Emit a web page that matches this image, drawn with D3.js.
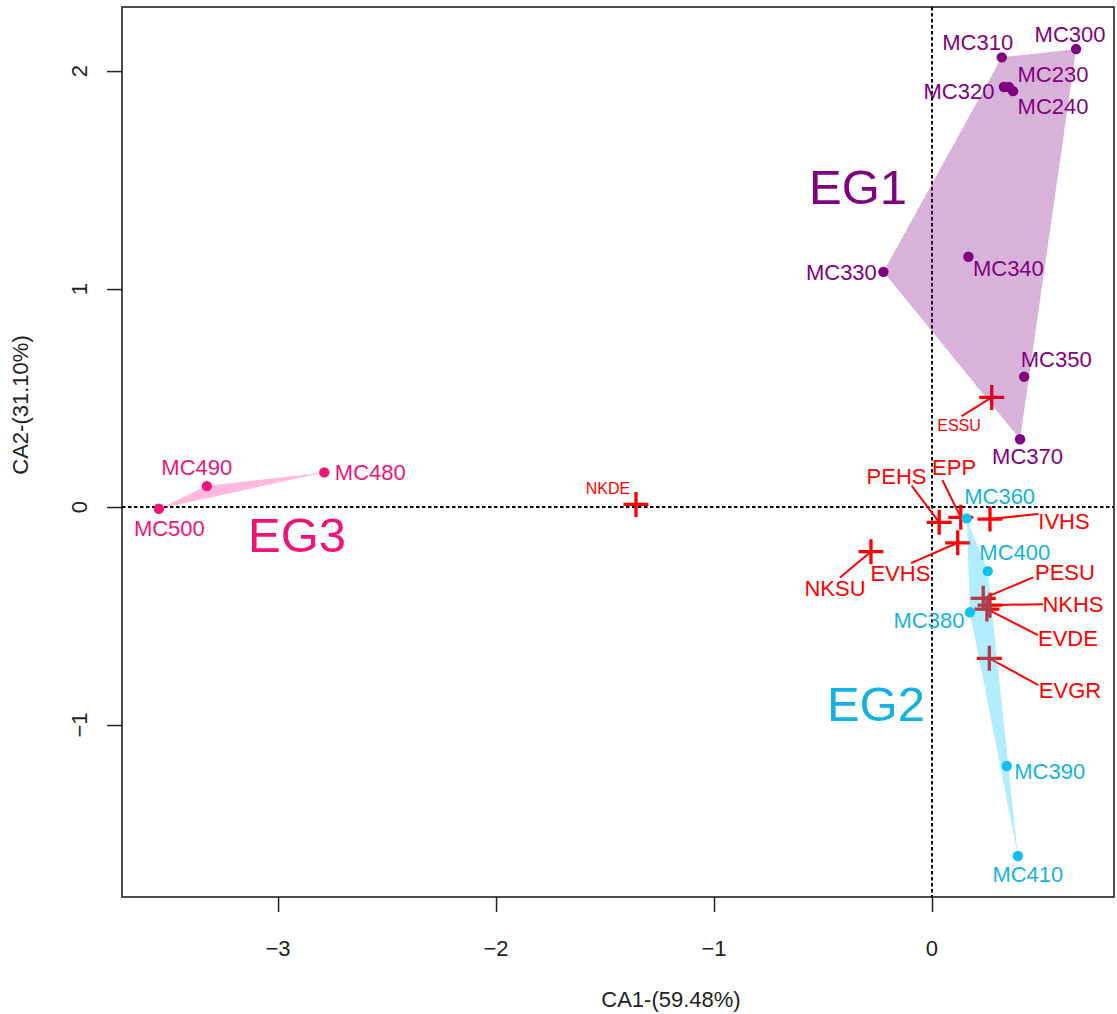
<!DOCTYPE html>
<html><head><meta charset="utf-8">
<script src="https://cdn.jsdelivr.net/npm/d3@7"></script>
<style>
body{margin:0;background:#fff}
svg{display:block}
text{font-family:"Liberation Sans",Arial,Helvetica,sans-serif}
</style>
</head><body>
<svg id="chart" width="1117" height="1014"></svg>
<script>
// ---------------- data ----------------
const xTickValues = [-3, -2, -1, 0];
const yTickValues = [-1, 0, 1, 2];
const xTitle = "CA1-(59.48%)";
const yTitle = "CA2-(31.10%)";

const groupNames = ["EG1", "EG2", "EG3"];

const eg1Sites = ["MC300","MC310","MC230","MC240","MC320","MC330","MC340","MC350","MC370"];
const eg1CA1   = [0.661, 0.320, 0.353, 0.372, 0.330, -0.223, 0.167, 0.423, 0.404];
const eg1CA2   = [2.101, 2.063, 1.927, 1.908, 1.927, 1.079, 1.148, 0.598, 0.311];

const eg2Sites = ["MC360","MC400","MC380","MC390","MC410"];
const eg2CA1   = [0.159, 0.256, 0.174, 0.343, 0.394];
const eg2CA2   = [-0.052, -0.294, -0.483, -1.188, -1.601];

const eg3Sites = ["MC500","MC490","MC480"];
const eg3CA1   = [-3.547, -3.327, -2.788];
const eg3CA2   = [-0.008, 0.096, 0.159];

const suppNames = ["ESSU","NKDE","PEHS","EPP","IVHS","EVHS","NKSU","PESU","NKHS","EVDE","EVGR"];
const suppCA1   = [0.274, -1.358, 0.033, 0.132, 0.266, 0.118, -0.280, 0.235, 0.266, 0.252, 0.263];
const suppCA2   = [0.503, 0.012, -0.070, -0.047, -0.055, -0.164, -0.205, -0.419, -0.450, -0.468, -0.694];

// ---------------- layout / style ----------------
const W = 1117, H = 1014;
const plot = {left: 122, right: 1114, top: 7, bottom: 897};
const colors = {
  EG1: {dot: "#800080", text: "#800080", fill: "#800080"},
  EG2: {dot: "#12C0EE", text: "#14B2E0", fill: "#00BFFF"},
  EG3: {dot: "#F0147A", text: "#F0147A", fill: "#FF1493"}
};
const suppColor = "#FF0000";
const groupLabelPos = {EG1: [-0.339, 1.472], EG2: [-0.257, -0.899], EG3: [-2.913, -0.124]};
// label centre offsets (px) relative to point
const pointLabelOffset = {
  MC300:[-6,-15], MC310:[-24,-15], MC230:[44,-13], MC240:[40,15], MC320:[-45,4],
  MC330:[-42,0], MC340:[40,11.5], MC350:[32,-18], MC370:[7.5,17],
  MC360:[33,-22], MC400:[27,-19], MC380:[-41,8], MC390:[43,5.5], MC410:[10,18],
  MC500:[10.5,19], MC490:[-10,-19], MC480:[46,0]
};
// supplementary labels: label centre offset, leader end offset, small font
const suppLabelLayout = {
  ESSU: {lab:[-32.7,27.7], end:[-30,18.7], small:true},
  NKDE: {lab:[-28,-16.3], end:null, small:true},
  PEHS: {lab:[-42.6,-46.5], end:[-27.6,-36.6]},
  EPP:  {lab:[-6.7,-49.8], end:[-18.4,-37.3]},
  IVHS: {lab:[74,1.8], end:[48.3,-5]},
  EVHS: {lab:[-57.3,30.7], end:[-46.6,20.4]},
  NKSU: {lab:[-36,36], end:[-31,25.7]},
  PESU: {lab:[81.7,-26.6], end:[50,-21]},
  NKHS: {lab:[83,-1], end:[53,-1]},
  EVDE: {lab:[81,29], end:[51,26]},
  EVGR: {lab:[80.7,31.7], end:[49,26.7]}
};

// ---------------- build ----------------
const svg = d3.select("#chart");
svg.append("rect").attr("width", W).attr("height", H).attr("fill", "#fff");

const x = d3.scaleLinear().domain([-3.716, 0.835]).range([plot.left, plot.right]);
const y = d3.scaleLinear().domain([-1.789, 2.294]).range([plot.bottom, plot.top]);

const groups = [
  {name: "EG1", sites: eg1Sites, a: eg1CA1, b: eg1CA2},
  {name: "EG2", sites: eg2Sites, a: eg2CA1, b: eg2CA2},
  {name: "EG3", sites: eg3Sites, a: eg3CA1, b: eg3CA2}
].map(g => ({name: g.name, pts: g.sites.map((s, i) => ({site: s, ca1: g.a[i], ca2: g.b[i]}))}));
const supp = suppNames.map((n, i) => ({name: n, ca1: suppCA1[i], ca2: suppCA2[i]}));

// axes
const fmt = d => d < 0 ? "\u2212" + Math.abs(d) : String(d);
const xAxis = svg.append("g").attr("transform", `translate(0,${plot.bottom})`)
  .call(d3.axisBottom(x).tickValues(xTickValues).tickSize(15).tickFormat(""));
const yAxis = svg.append("g").attr("transform", `translate(${plot.left},0)`)
  .call(d3.axisLeft(y).tickValues(yTickValues).tickSize(15).tickFormat(""));
[xAxis, yAxis].forEach(a => {
  a.select(".domain").remove();
  a.selectAll(".tick line").attr("stroke", "#222").attr("stroke-width", 1.5);
});
svg.append("g").selectAll("text").data(xTickValues).join("text")
  .attr("x", d => x(d)).attr("y", 956).attr("text-anchor", "middle")
  .attr("font-size", 22).attr("fill", "#222").text(fmt);
svg.append("g").selectAll("text").data(yTickValues).join("text")
  .attr("transform", d => `translate(79,${y(d)}) rotate(-90)`)
  .attr("dy", "0.36em").attr("text-anchor", "middle")
  .attr("font-size", 22).attr("fill", "#222").text(fmt);

svg.append("text").attr("x", 671).attr("y", 1007).attr("text-anchor", "middle")
  .attr("font-size", 22).attr("fill", "#222").text(xTitle);
svg.append("text").attr("transform", "translate(20,405) rotate(-90)")
  .attr("dy", "0.36em").attr("text-anchor", "middle")
  .attr("font-size", 22).attr("fill", "#222").text(yTitle);

// reference lines
const ref = svg.append("g").attr("stroke", "#000").attr("stroke-width", 2).attr("stroke-dasharray", "3.5,2.5");
ref.append("line").attr("x1", x(0)).attr("x2", x(0)).attr("y1", plot.top).attr("y2", plot.bottom);
ref.append("line").attr("x1", plot.left).attr("x2", plot.right).attr("y1", y(0)).attr("y2", y(0));

// supplementary: leader lines, crosses, labels
const sg = svg.append("g");
sg.selectAll("line.lead").data(supp.filter(d => suppLabelLayout[d.name].end)).join("line")
  .attr("x1", d => x(d.ca1)).attr("y1", d => y(d.ca2))
  .attr("x2", d => x(d.ca1) + suppLabelLayout[d.name].end[0])
  .attr("y2", d => y(d.ca2) + suppLabelLayout[d.name].end[1])
  .attr("stroke", suppColor).attr("stroke-width", 2);
const arm = 12.5;
sg.selectAll("path.cross").data(supp).join("path")
  .attr("d", d => {
    const cx = x(d.ca1), cy = y(d.ca2);
    return `M${cx-arm},${cy}H${cx+arm}M${cx},${cy-arm}V${cy+arm}`;
  })
  .attr("stroke", suppColor).attr("stroke-width", 3.3).attr("fill", "none");
sg.selectAll("text").data(supp).join("text")
  .attr("x", d => x(d.ca1) + suppLabelLayout[d.name].lab[0])
  .attr("y", d => y(d.ca2) + suppLabelLayout[d.name].lab[1])
  .attr("dy", "0.36em").attr("text-anchor", "middle")
  .attr("font-size", d => suppLabelLayout[d.name].small ? 16 : 22)
  .attr("fill", suppColor).text(d => d.name);

// hulls
svg.append("g").selectAll("path").data(groups).join("path")
  .attr("d", g => {
    const h = d3.polygonHull(g.pts.map(p => [x(p.ca1), y(p.ca2)]));
    return "M" + h.join("L") + "Z";
  })
  .attr("fill", g => colors[g.name].fill).attr("fill-opacity", 0.3).attr("stroke", "none");

// points and labels
groups.forEach(g => {
  const gg = svg.append("g");
  gg.selectAll("circle").data(g.pts).join("circle")
    .attr("cx", p => x(p.ca1)).attr("cy", p => y(p.ca2)).attr("r", 5.2)
    .attr("fill", colors[g.name].dot);
  gg.selectAll("text").data(g.pts).join("text")
    .attr("x", p => x(p.ca1) + pointLabelOffset[p.site][0])
    .attr("y", p => y(p.ca2) + pointLabelOffset[p.site][1])
    .attr("dy", "0.36em").attr("text-anchor", "middle")
    .attr("font-size", 22).attr("fill", colors[g.name].text).text(p => p.site);
});

// group labels
svg.append("g").selectAll("text").data(groupNames).join("text")
  .attr("x", n => x(groupLabelPos[n][0])).attr("y", n => y(groupLabelPos[n][1]))
  .attr("dy", "0.36em").attr("text-anchor", "middle")
  .attr("font-size", 49).attr("fill", n => colors[n].text).text(n => n);

// frame
svg.append("rect").attr("x", plot.left).attr("y", plot.top)
  .attr("width", plot.right - plot.left).attr("height", plot.bottom - plot.top)
  .attr("fill", "none").attr("stroke", "#111").attr("stroke-width", 1.5);
</script>
</body></html>
